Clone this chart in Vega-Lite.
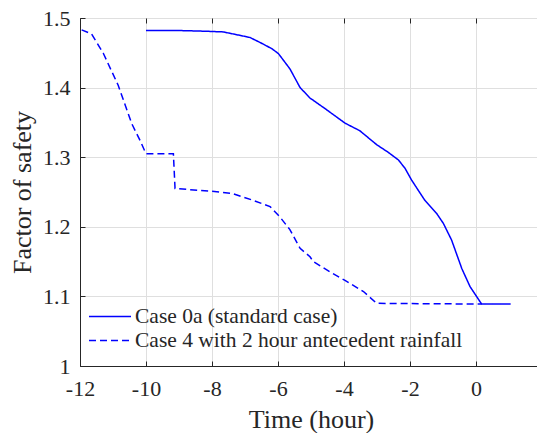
{
  "$schema": "https://vega.github.io/schema/vega-lite/v6.json",
  "width": 462,
  "height": 348,
  "autosize": {"type": "none"},
  "padding": {"left": 80, "top": 18, "right": -5, "bottom": 67},
  "background": "white",
  "config": {
    "view": {"stroke": "#262626", "strokeWidth": 1},
    "font": "Liberation Serif",
    "axis": {
      "labelFont": "Liberation Serif",
      "titleFont": "Liberation Serif",
      "labelColor": "#262626",
      "titleColor": "#262626",
      "domainColor": "#262626",
      "tickColor": "#262626",
      "gridColor": "#dfdfdf",
      "labelFontSize": 22,
      "titleFontSize": 26,
      "titleFontWeight": "normal",
      "labelFlush": false,
      "labelOverlap": false
    },
    "legend": {"labelFont": "Liberation Serif"}
  },
  "data": {
    "values": [
      {"case": "Case 0a (standard case)", "time": -10, "fs": 1.482},
      {"case": "Case 0a (standard case)", "time": -9, "fs": 1.482},
      {"case": "Case 0a (standard case)", "time": -8.2, "fs": 1.481},
      {"case": "Case 0a (standard case)", "time": -7.66, "fs": 1.48},
      {"case": "Case 0a (standard case)", "time": -7.35, "fs": 1.477},
      {"case": "Case 0a (standard case)", "time": -6.85, "fs": 1.472},
      {"case": "Case 0a (standard case)", "time": -6.55, "fs": 1.465},
      {"case": "Case 0a (standard case)", "time": -6.19, "fs": 1.456},
      {"case": "Case 0a (standard case)", "time": -5.99, "fs": 1.449},
      {"case": "Case 0a (standard case)", "time": -5.64, "fs": 1.427},
      {"case": "Case 0a (standard case)", "time": -5.33, "fs": 1.4},
      {"case": "Case 0a (standard case)", "time": -5.03, "fs": 1.385},
      {"case": "Case 0a (standard case)", "time": -4.58, "fs": 1.37},
      {"case": "Case 0a (standard case)", "time": -3.97, "fs": 1.349},
      {"case": "Case 0a (standard case)", "time": -3.52, "fs": 1.338},
      {"case": "Case 0a (standard case)", "time": -3.01, "fs": 1.318},
      {"case": "Case 0a (standard case)", "time": -2.66, "fs": 1.307},
      {"case": "Case 0a (standard case)", "time": -2.35, "fs": 1.296},
      {"case": "Case 0a (standard case)", "time": -2.15, "fs": 1.284},
      {"case": "Case 0a (standard case)", "time": -1.95, "fs": 1.267},
      {"case": "Case 0a (standard case)", "time": -1.55, "fs": 1.238},
      {"case": "Case 0a (standard case)", "time": -1.19, "fs": 1.219},
      {"case": "Case 0a (standard case)", "time": -0.99, "fs": 1.205},
      {"case": "Case 0a (standard case)", "time": -0.74, "fs": 1.181},
      {"case": "Case 0a (standard case)", "time": -0.43, "fs": 1.14},
      {"case": "Case 0a (standard case)", "time": -0.18, "fs": 1.114},
      {"case": "Case 0a (standard case)", "time": 0.17, "fs": 1.089},
      {"case": "Case 0a (standard case)", "time": 1.05, "fs": 1.089},
      {"case": "Case 4 with 2 hour antecedent rainfall", "time": -11.95, "fs": 1.483},
      {"case": "Case 4 with 2 hour antecedent rainfall", "time": -11.65, "fs": 1.477},
      {"case": "Case 4 with 2 hour antecedent rainfall", "time": -11.29, "fs": 1.449},
      {"case": "Case 4 with 2 hour antecedent rainfall", "time": -10.84, "fs": 1.403},
      {"case": "Case 4 with 2 hour antecedent rainfall", "time": -10.43, "fs": 1.348},
      {"case": "Case 4 with 2 hour antecedent rainfall", "time": -10.18, "fs": 1.324},
      {"case": "Case 4 with 2 hour antecedent rainfall", "time": -10, "fs": 1.305},
      {"case": "Case 4 with 2 hour antecedent rainfall", "time": -9.17, "fs": 1.305},
      {"case": "Case 4 with 2 hour antecedent rainfall", "time": -9.12, "fs": 1.255},
      {"case": "Case 4 with 2 hour antecedent rainfall", "time": -8.01, "fs": 1.251},
      {"case": "Case 4 with 2 hour antecedent rainfall", "time": -7.4, "fs": 1.248},
      {"case": "Case 4 with 2 hour antecedent rainfall", "time": -6.75, "fs": 1.238},
      {"case": "Case 4 with 2 hour antecedent rainfall", "time": -6.24, "fs": 1.229},
      {"case": "Case 4 with 2 hour antecedent rainfall", "time": -5.94, "fs": 1.214},
      {"case": "Case 4 with 2 hour antecedent rainfall", "time": -5.64, "fs": 1.196},
      {"case": "Case 4 with 2 hour antecedent rainfall", "time": -5.33, "fs": 1.169},
      {"case": "Case 4 with 2 hour antecedent rainfall", "time": -5.03, "fs": 1.157},
      {"case": "Case 4 with 2 hour antecedent rainfall", "time": -4.93, "fs": 1.15},
      {"case": "Case 4 with 2 hour antecedent rainfall", "time": -4.42, "fs": 1.135},
      {"case": "Case 4 with 2 hour antecedent rainfall", "time": -3.97, "fs": 1.123},
      {"case": "Case 4 with 2 hour antecedent rainfall", "time": -3.41, "fs": 1.107},
      {"case": "Case 4 with 2 hour antecedent rainfall", "time": -3.01, "fs": 1.09},
      {"case": "Case 4 with 2 hour antecedent rainfall", "time": 0.17, "fs": 1.089}
    ]
  },
  "layer": [
    {
      "mark": {"type": "line", "color": "#0000ff", "strokeWidth": 1.5},
      "encoding": {
        "x": {
          "field": "time", "type": "quantitative",
          "scale": {"domain": [-12, 2], "nice": false},
          "axis": {
            "orient": "bottom",
            "values": [-12, -10, -8, -6, -4, -2, 0, 2],
            "labelExpr": "'' + datum.value",
            "labelFont": "Liberation Serif",
            "tickSize": -5,
            "labelPadding": 17,
            "grid": true,
            "title": "Time (hour)",
            "titlePadding": 7
          }
        },
        "y": {
          "field": "fs", "type": "quantitative",
          "scale": {"domain": [1, 1.5], "nice": false, "zero": false},
          "axis": {
            "values": [1, 1.1, 1.2, 1.3, 1.4, 1.5],
            "labelExpr": "'' + datum.value",
            "labelFont": "Liberation Serif",
            "tickSize": -5,
            "labelPadding": 15,
            "grid": true,
            "title": "Factor of safety",
            "titlePadding": 7
          }
        },
        "strokeDash": {
          "field": "case", "type": "nominal",
          "scale": {
            "domain": ["Case 0a (standard case)", "Case 4 with 2 hour antecedent rainfall"],
            "range": [[1, 0], [7, 4]]
          },
          "legend": {
            "orient": "none",
            "legendX": 18.5,
            "legendY": 287,
            "title": null,
            "padding": 0,
            "symbolType": "M-2,0H2",
            "symbolSize": 441,
            "symbolStrokeWidth": 1.5,
            "symbolStrokeColor": "#0000ff",
            "symbolFillColor": "transparent",
            "labelOffset": 13.5,
            "rowPadding": 2,
            "labelFont": "Liberation Serif",
            "labelFontSize": 21.5,
            "labelColor": "#262626",
            "labelLimit": 500
          }
        }
      }
    },
    {
      "mark": {"type": "line", "opacity": 0},
      "encoding": {
        "x": {
          "field": "time", "type": "quantitative",
          "axis": {
            "orient": "top",
            "values": [-12, -10, -8, -6, -4, -2, 0, 2],
            "labels": false,
            "domain": false,
            "grid": false,
            "tickSize": -5,
            "title": null
          }
        },
        "y": {"field": "fs", "type": "quantitative"},
        "detail": {"field": "case"}
      }
    }
  ],
  "resolve": {"axis": {"x": "independent"}}
}
